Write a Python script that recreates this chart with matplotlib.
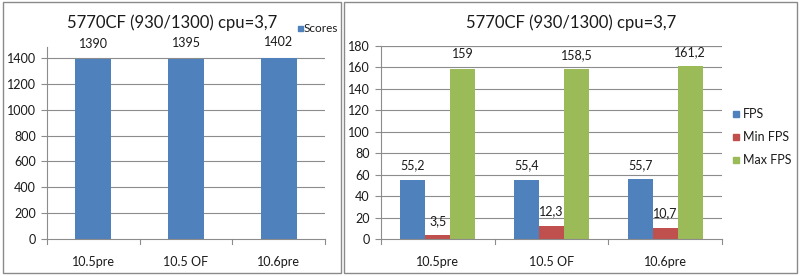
import matplotlib
matplotlib.use('Agg')
import matplotlib.pyplot as plt
from matplotlib.patches import Rectangle
import numpy as np

plt.rcParams['font.family'] = ['Lato', 'DejaVu Sans']

categories = ['10.5pre', '10.5 OF', '10.6pre']
scores = [1390, 1395, 1402]
fps = [55.2, 55.4, 55.7]
min_fps = [3.5, 12.3, 10.7]
max_fps = [159, 158.5, 161.2]
title = '5770CF (930/1300) cpu=3,7'

BLUE = '#4F81BD'
RED = '#C0504D'
GREEN = '#9BBB59'
GRID = '#8c8c8c'
TXT = '#1a1a1a'
W, H = 800, 276


def px_axes(fig, x0, y0, x1, y1):
    # pixel box (top-left origin) -> figure fraction
    return fig.add_axes([x0 / W, (H - y1) / H, (x1 - x0) / W, (y1 - y0) / H])


def style_axes(ax, yticks, ymax, ncat):
    ax.set_xlim(0, ncat)
    ax.set_ylim(0, ymax)
    ax.set_yticks(yticks)
    ax.set_yticklabels([f'{t:g}' for t in yticks], fontsize=9, color=TXT)
    ax.tick_params(axis='y', length=4, width=0.8, color=GRID, pad=4)
    ax.set_xticks([i + 0.5 for i in range(ncat)])
    ax.set_xticklabels(categories, fontsize=9, color=TXT)
    ax.tick_params(axis='x', length=0, pad=12)
    for t in yticks[1:]:
        ax.axhline(t, color=GRID, lw=0.8, zorder=0)
    for s in ['top', 'right']:
        ax.spines[s].set_visible(False)
    for s in ['left', 'bottom']:
        ax.spines[s].set_color(GRID)
        ax.spines[s].set_linewidth(0.8)
    # category separator ticks below the x axis
    for i in range(ncat + 1):
        ax.plot([i, i], [0, -ymax * 0.025], color=GRID, lw=0.8,
                clip_on=False, zorder=1)


fig = plt.figure(figsize=(W / 100, H / 100), dpi=100)
fig.patch.set_facecolor('white')

# panel frames (spreadsheet look)
for x0, x1 in [(3, 341), (344, 797)]:
    fig.add_artist(Rectangle((x0 / W, 3 / H), (x1 - x0) / W, (H - 5) / H,
                             transform=fig.transFigure, facecolor='white',
                             edgecolor='#8a8a8a', lw=1.0, zorder=0))

# left chart: scores
ax1 = px_axes(fig, 47, 47, 325, 239)
x = np.arange(len(categories)) + 0.5
ax1.bar(x, scores, width=0.39, color=BLUE, zorder=2)
style_axes(ax1, list(range(0, 1401, 200)), 1485, len(categories))
for xi, v in zip(x, scores):
    ax1.annotate(f'{v}', (xi, v), xytext=(0, 7), textcoords='offset points',
                 ha='center', va='bottom', fontsize=9, color=TXT)
fig.text(172 / W, 1 - 23 / H, title, ha='center', va='center', fontsize=12,
         color=TXT)
fig.patches.append(Rectangle((298 / W, 1 - 31 / H), 5 / W, 5 / H,
                             transform=fig.transFigure, color=BLUE))
fig.text(304 / W, 1 - 28 / H, 'Scores', ha='left', va='center', fontsize=8.5,
         color=TXT)

# right chart: FPS
ax2 = px_axes(fig, 381, 46, 722, 239)
bw = 0.22
series = [(fps, BLUE, 'FPS'), (min_fps, RED, 'Min FPS'), (max_fps, GREEN, 'Max FPS')]
for k, (vals, col, name) in enumerate(series):
    xs = x + (k - 1) * bw
    ax2.bar(xs, vals, width=bw, color=col, zorder=2)
    for xi, v in zip(xs, vals):
        lab = f'{v:g}'.replace('.', ',')
        ax2.annotate(lab, (xi, v), xytext=(0, 6), textcoords='offset points',
                     ha='center', va='bottom', fontsize=9, color=TXT)
style_axes(ax2, list(range(0, 181, 20)), 180, len(categories))
ax2.axhline(180, color=GRID, lw=0.8, zorder=0)
fig.text(571 / W, 1 - 23 / H, title, ha='center', va='center', fontsize=12,
         color=TXT)
for i, (vals, col, name) in enumerate(series):
    yc = 114 + i * 23
    fig.patches.append(Rectangle((733 / W, 1 - (yc + 3) / H), 6 / W, 6 / H,
                                 transform=fig.transFigure, color=col))
    fig.text(743 / W, 1 - yc / H, name, ha='left', va='center', fontsize=9,
             color=TXT)

fig.savefig('out.png', dpi=100, facecolor=fig.get_facecolor())
